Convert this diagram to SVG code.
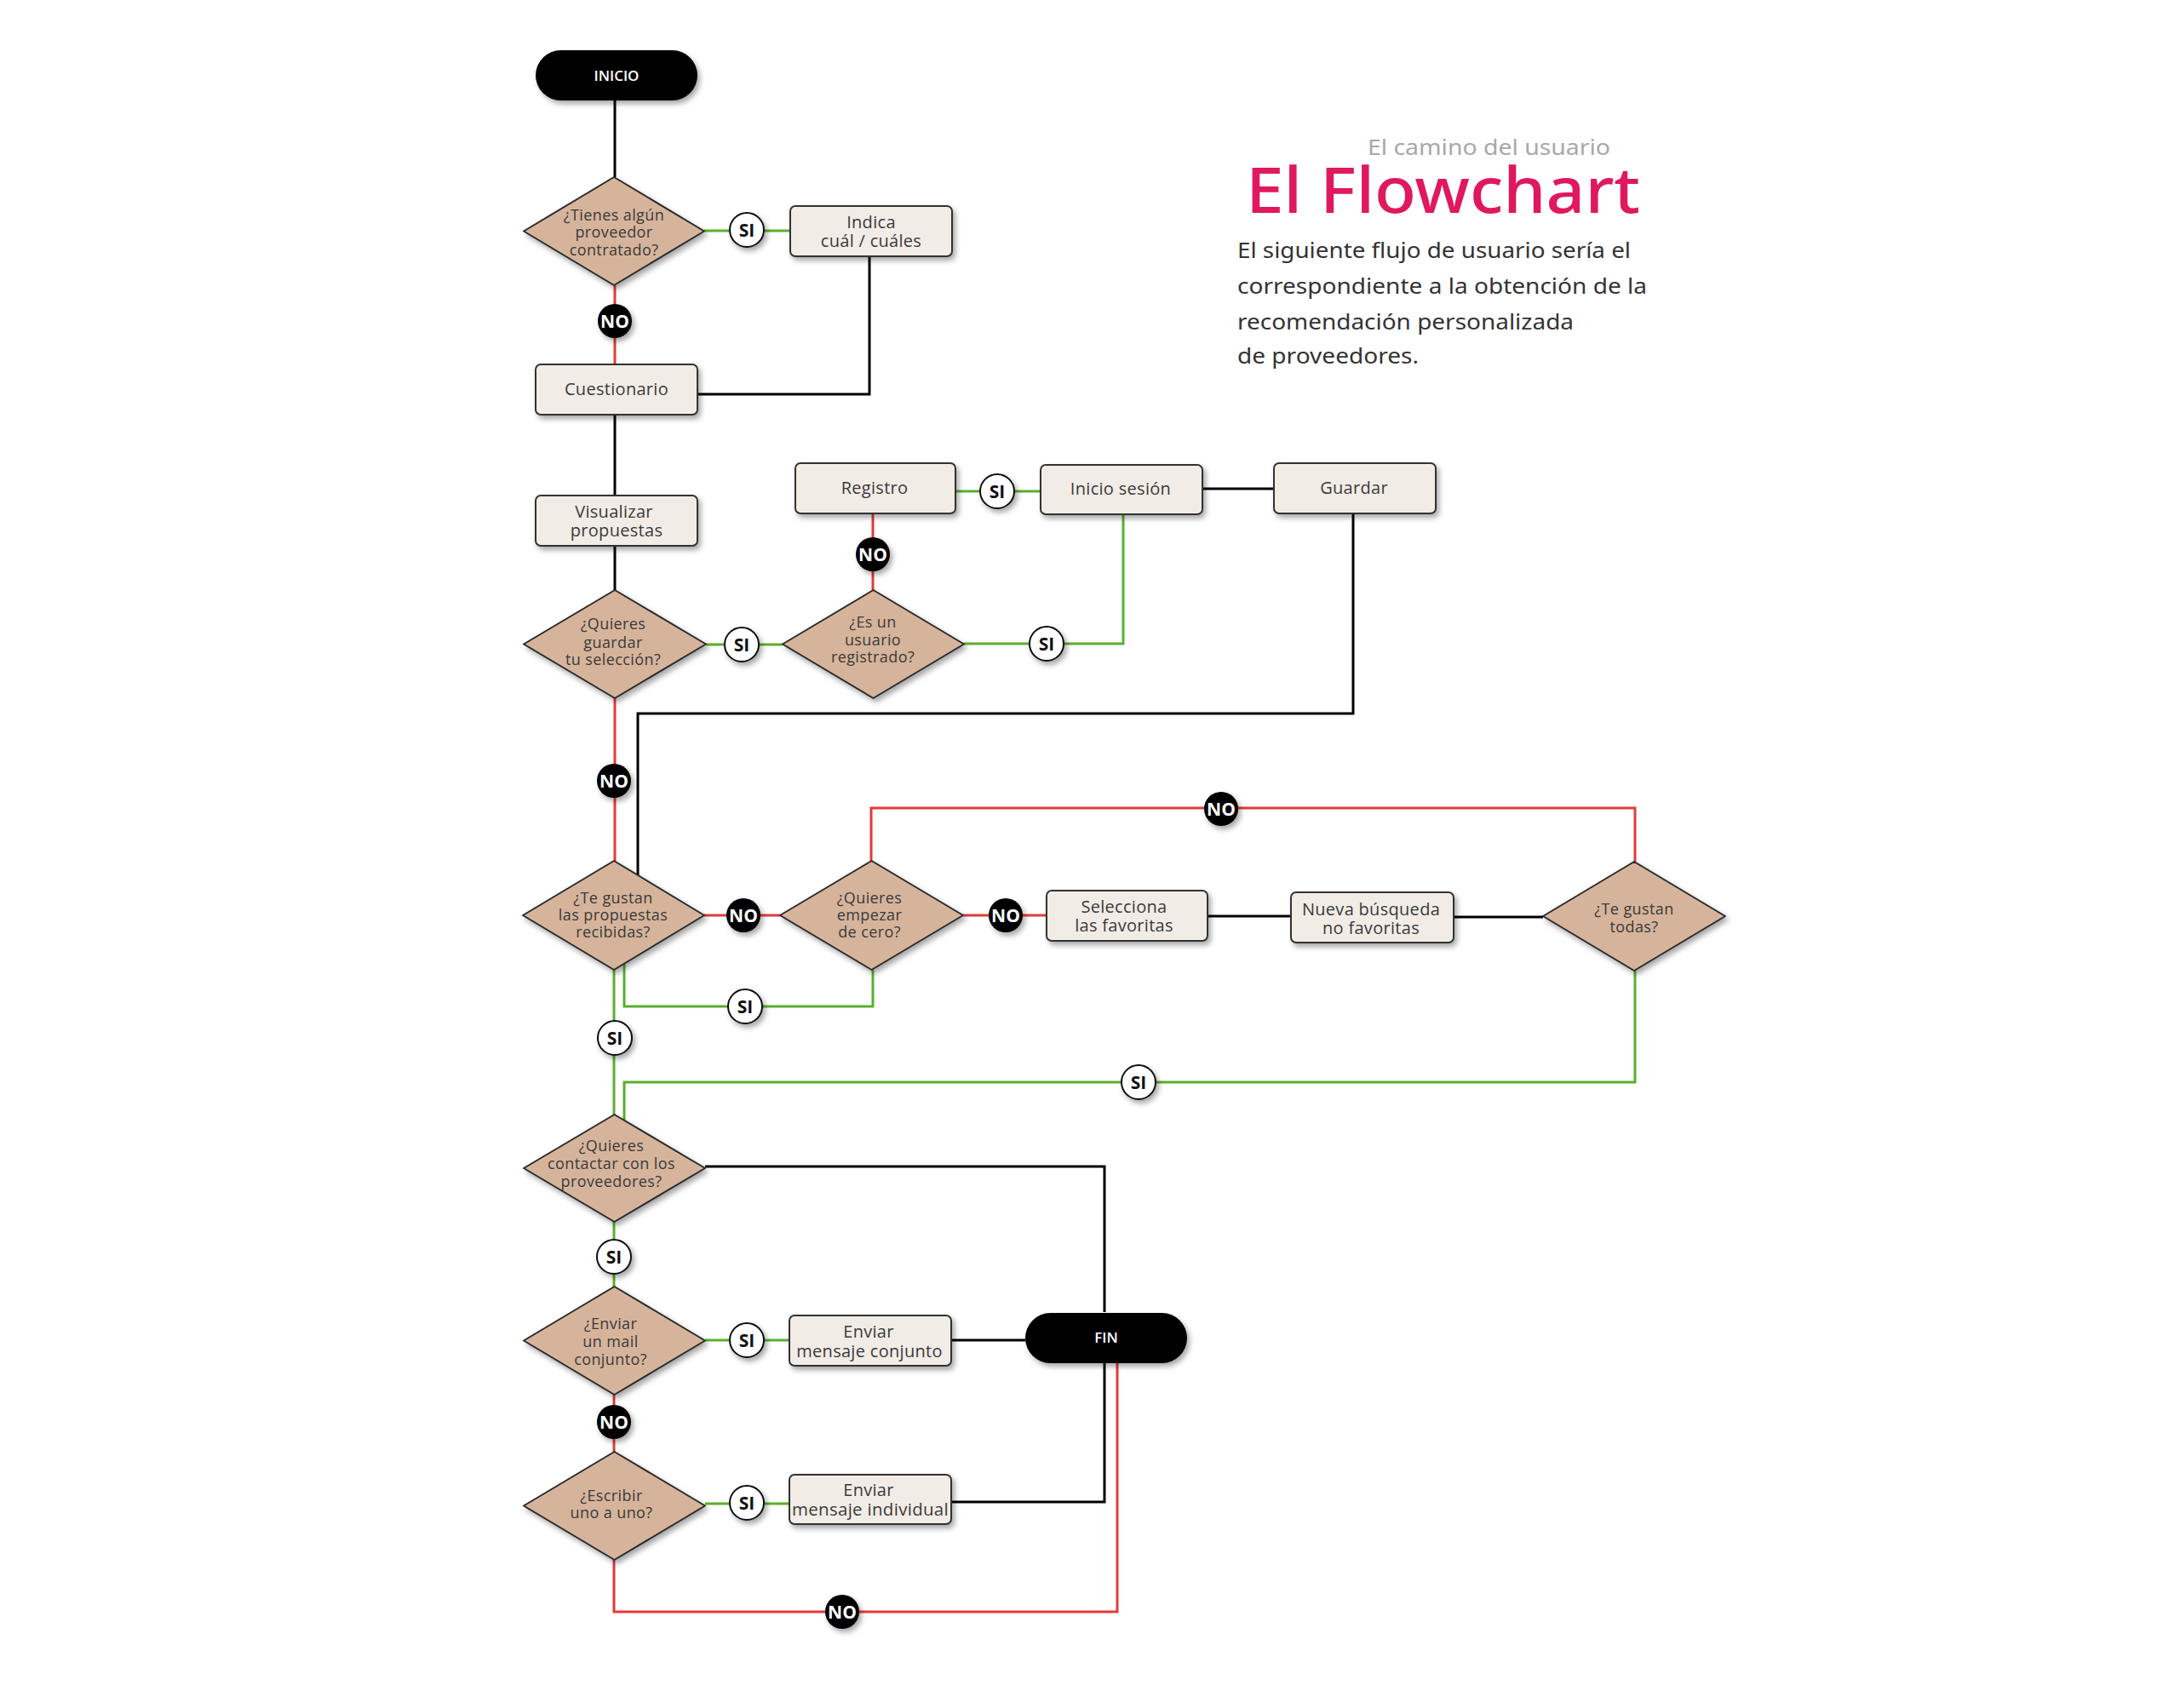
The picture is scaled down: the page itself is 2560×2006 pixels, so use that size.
<svg xmlns="http://www.w3.org/2000/svg" width="2560" height="2006" viewBox="0 0 2560 2006">
<defs>
<filter id="sh" x="-20%" y="-20%" width="150%" height="150%">
<feDropShadow dx="3" dy="4" stdDeviation="3" flood-color="#000" flood-opacity="0.35"/>
</filter>
<style>
.box{fill:#F2ECE6;stroke:#333;stroke-width:2;filter:url(#sh)}
.dia{fill:#D6B49B;stroke:#2b2b2b;stroke-width:2;stroke-linejoin:round;filter:url(#sh)}
.pill{fill:#000;filter:url(#sh)}
.si{fill:#fff;stroke:#111;stroke-width:2;filter:url(#sh)}
.no{fill:#000;filter:url(#sh)}
.t{font-family:"Open Sans","Noto Sans",sans-serif;font-size:20px;letter-spacing:0.3px;fill:#3a3a3a;text-anchor:middle}
.dt{font-family:"Open Sans","Noto Sans",sans-serif;font-size:18px;letter-spacing:0.4px;fill:#3a3a3a;text-anchor:middle}
.pt{font-family:"Open Sans","Noto Sans",sans-serif;font-size:17px;font-weight:600;fill:#fff;text-anchor:middle}
.st{font-family:"Open Sans","Noto Sans",sans-serif;font-size:21px;font-weight:700;fill:#111;text-anchor:middle}
.nt{font-family:"Open Sans","Noto Sans",sans-serif;font-size:21px;font-weight:700;fill:#fff;text-anchor:middle}
.g{fill:none;stroke:#5BAF2E;stroke-width:3}
.r{fill:none;stroke:#E23B3B;stroke-width:3}
.k{fill:none;stroke:#000;stroke-width:3}
.para{font-family:"Noto Sans","Open Sans",sans-serif;font-size:25px;fill:#333}
</style>
</defs>
<rect width="2560" height="2006" fill="#fff"/>

<g id="title">
<text x="1606" y="182" font-family="Noto Sans, Open Sans, sans-serif" font-size="25" fill="#A8A8A8" textLength="285" lengthAdjust="spacingAndGlyphs">El camino del usuario</text>
<text x="1463" y="250" font-family="Noto Sans, Open Sans, sans-serif" font-size="74" font-weight="500" fill="#E0185E" textLength="463" lengthAdjust="spacingAndGlyphs">El Flowchart</text>
<text class="para" x="1453" y="303" textLength="462" lengthAdjust="spacingAndGlyphs">El siguiente flujo de usuario sería el</text>
<text class="para" x="1453" y="345" textLength="481" lengthAdjust="spacingAndGlyphs">correspondiente a la obtención de la</text>
<text class="para" x="1453" y="387" textLength="395" lengthAdjust="spacingAndGlyphs">recomendación personalizada</text>
<text class="para" x="1453" y="427" textLength="213" lengthAdjust="spacingAndGlyphs">de proveedores.</text>
</g>

<g id="connectors">
<path class="k" d="M722 118 V208"/>
<path class="g" d="M827 271 H928"/>
<path class="r" d="M722 335 V428"/>
<path class="k" d="M1021 301 V463 H819"/>
<path class="k" d="M722 487 V582"/>
<path class="k" d="M722 641 V693"/>
<path class="g" d="M829 757 H919"/>
<path class="r" d="M1025 603 V693"/>
<path class="g" d="M1122 577 H1222"/>
<path class="g" d="M1132 756 H1319 V604"/>
<path class="k" d="M1412 574 H1496"/>
<path class="k" d="M1589 603 V838 H749 V1028"/>
<path class="r" d="M722 820 V1011"/>
<path class="r" d="M827 1075 H916"/>
<path class="r" d="M1131 1075 H1229"/>
<path class="k" d="M1418 1076 H1516"/>
<path class="k" d="M1707 1077 H1812"/>
<path class="r" d="M1023 1011 V949 H1920 V1012"/>
<path class="g" d="M721 1139 V1309"/>
<path class="g" d="M733 1132 V1182 H1025 V1139"/>
<path class="g" d="M1920 1140 V1271 H733 V1316"/>
<path class="k" d="M828 1370 H1297 V1541"/>
<path class="g" d="M721 1435 V1511"/>
<path class="g" d="M828 1574 H927"/>
<path class="k" d="M1117 1574 H1204"/>
<path class="r" d="M721 1638 V1705"/>
<path class="g" d="M828 1766 H927"/>
<path class="k" d="M1117 1764 H1297 V1601"/>
<path class="r" d="M1312 1601 V1893 H721 V1832"/>
</g>

<g id="inicio"><rect class="pill" x="629" y="59" width="190" height="59" rx="29.5"/><text class="pt" x="724" y="95">INICIO</text></g>
<g id="d1"><polygon class="dia" points="721,208 827,271.5 721,335 615,271.5"/><text class="dt"><tspan x="721" y="259">¿Tienes algún</tspan><tspan x="721" y="279">proveedor</tspan><tspan x="721" y="300">contratado?</tspan></text></g>
<g id="indica"><rect class="box" x="928" y="242" width="190" height="59" rx="6"/><text class="t"><tspan x="1023" y="268">Indica</tspan><tspan x="1023" y="290">cuál / cuáles</tspan></text></g>
<g id="cuestionario"><rect class="box" x="629" y="428" width="190" height="59" rx="6"/><text class="t" x="724" y="464">Cuestionario</text></g>
<g id="visualizar"><rect class="box" x="629" y="582" width="190" height="59" rx="6"/><text class="t"><tspan x="721" y="608">Visualizar</tspan><tspan x="724" y="630">propuestas</tspan></text></g>
<g id="d2"><polygon class="dia" points="722,693 829,756.5 722,820 615,756.5"/><text class="dt"><tspan x="720" y="739">¿Quieres</tspan><tspan x="720" y="761">guardar</tspan><tspan x="720" y="781">tu selección?</tspan></text></g>
<g id="registro"><rect class="box" x="934" y="544" width="188" height="59" rx="6"/><text class="t" x="1027" y="580">Registro</text></g>
<g id="d3"><polygon class="dia" points="1025.5,693 1132,756.5 1025.5,820 919,756.5"/><text class="dt"><tspan x="1025" y="737">¿Es un</tspan><tspan x="1025" y="758">usuario</tspan><tspan x="1025" y="778">registrado?</tspan></text></g>
<g id="iniciosesion"><rect class="box" x="1222" y="546" width="190" height="58" rx="6"/><text class="t" x="1316" y="581">Inicio sesión</text></g>
<g id="guardar"><rect class="box" x="1496" y="544" width="190" height="59" rx="6"/><text class="t" x="1590" y="580">Guardar</text></g>
<g id="d4"><polygon class="dia" points="721,1011 827,1075 721,1139 614,1075"/><text class="dt"><tspan x="720" y="1061">¿Te gustan</tspan><tspan x="720" y="1081">las propuestas</tspan><tspan x="720" y="1101">recibidas?</tspan></text></g>
<g id="d5"><polygon class="dia" points="1023.5,1011 1131,1075 1023.5,1139 916,1075"/><text class="dt"><tspan x="1021" y="1061">¿Quieres</tspan><tspan x="1021" y="1081">empezar</tspan><tspan x="1021" y="1101">de cero?</tspan></text></g>
<g id="selecciona"><rect class="box" x="1229" y="1046" width="189" height="59" rx="6"/><text class="t"><tspan x="1320" y="1072">Selecciona</tspan><tspan x="1320" y="1094">las favoritas</tspan></text></g>
<g id="nueva"><rect class="box" x="1516" y="1048" width="191" height="59" rx="6"/><text class="t"><tspan x="1610" y="1075">Nueva búsqueda</tspan><tspan x="1610" y="1097">no favoritas</tspan></text></g>
<g id="d6"><polygon class="dia" points="1919,1012 2026,1076 1919,1140 1812,1076"/><text class="dt"><tspan x="1919" y="1074">¿Te gustan</tspan><tspan x="1919" y="1095">todas?</tspan></text></g>
<g id="d7"><polygon class="dia" points="721.5,1309 828,1372 721.5,1435 615,1372"/><text class="dt"><tspan x="718" y="1352">¿Quieres</tspan><tspan x="718" y="1373">contactar con los</tspan><tspan x="718" y="1394">proveedores?</tspan></text></g>
<g id="d8"><polygon class="dia" points="721.5,1511 828,1574.5 721.5,1638 615,1574.5"/><text class="dt"><tspan x="717" y="1561">¿Enviar</tspan><tspan x="717" y="1582">un mail</tspan><tspan x="717" y="1603">conjunto?</tspan></text></g>
<g id="conjunto"><rect class="box" x="927" y="1545" width="190" height="59" rx="6"/><text class="t"><tspan x="1020" y="1571">Enviar</tspan><tspan x="1021" y="1594">mensaje conjunto</tspan></text></g>
<g id="fin"><rect class="pill" x="1204" y="1542" width="190" height="59" rx="29.5"/><text class="pt" x="1299" y="1577">FIN</text></g>
<g id="d9"><polygon class="dia" points="721.5,1705 828,1768.5 721.5,1832 615,1768.5"/><text class="dt"><tspan x="718" y="1763">¿Escribir</tspan><tspan x="718" y="1783">uno a uno?</tspan></text></g>
<g id="individual"><rect class="box" x="927" y="1732" width="190" height="58" rx="6"/><text class="t"><tspan x="1020" y="1757">Enviar</tspan><tspan x="1022" y="1780" textLength="184" lengthAdjust="spacingAndGlyphs">mensaje individual</tspan></text></g>

<g id="labels">
<g><circle class="si" cx="877" cy="270" r="20"/><text class="st" x="877" y="277.5">SI</text></g>
<g><circle class="no" cx="722" cy="377" r="20"/><text class="nt" x="722" y="384.5">NO</text></g>
<g><circle class="si" cx="871" cy="757" r="20"/><text class="st" x="871" y="764.5">SI</text></g>
<g><circle class="no" cx="1025" cy="651" r="20"/><text class="nt" x="1025" y="658.5">NO</text></g>
<g><circle class="si" cx="1171" cy="577" r="20"/><text class="st" x="1171" y="584.5">SI</text></g>
<g><circle class="si" cx="1229" cy="756" r="20"/><text class="st" x="1229" y="763.5">SI</text></g>
<g><circle class="no" cx="721" cy="917" r="20"/><text class="nt" x="721" y="924.5">NO</text></g>
<g><circle class="no" cx="873" cy="1075" r="20"/><text class="nt" x="873" y="1082.5">NO</text></g>
<g><circle class="no" cx="1181" cy="1075" r="20"/><text class="nt" x="1181" y="1082.5">NO</text></g>
<g><circle class="no" cx="1434" cy="950" r="20"/><text class="nt" x="1434" y="957.5">NO</text></g>
<g><circle class="si" cx="875" cy="1182" r="20"/><text class="st" x="875" y="1189.5">SI</text></g>
<g><circle class="si" cx="722" cy="1219" r="20"/><text class="st" x="722" y="1226.5">SI</text></g>
<g><circle class="si" cx="1337" cy="1271" r="20"/><text class="st" x="1337" y="1278.5">SI</text></g>
<g><circle class="si" cx="721" cy="1476" r="20"/><text class="st" x="721" y="1483.5">SI</text></g>
<g><circle class="si" cx="877" cy="1574" r="20"/><text class="st" x="877" y="1581.5">SI</text></g>
<g><circle class="no" cx="721" cy="1670" r="20"/><text class="nt" x="721" y="1677.5">NO</text></g>
<g><circle class="si" cx="877" cy="1765" r="20"/><text class="st" x="877" y="1772.5">SI</text></g>
<g><circle class="no" cx="989" cy="1893" r="20"/><text class="nt" x="989" y="1900.5">NO</text></g>
</g>
</svg>
